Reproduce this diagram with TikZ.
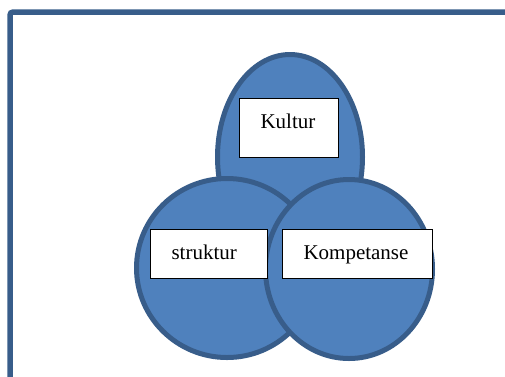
\documentclass[tikz,border=0pt]{standalone}
\usepackage{fontspec}
\setmainfont{Liberation Serif}
\usetikzlibrary{shapes}
\definecolor{ringfill}{HTML}{4F81BD}
\definecolor{ringline}{HTML}{385D8A}

\begin{document}
\begin{tikzpicture}[x=1pt,y=-1pt,inner sep=0pt,
	ring/.style={ellipse,draw=ringline,fill=ringfill,line width=5pt},
	tagbox/.style={draw=black,fill=white,line width=1pt,align=left,anchor=north west,
		font=\fontsize{21}{25}\selectfont,inner xsep=21pt,inner ysep=0pt,text height=30pt}]

\useasboundingbox (0,0) rectangle (505,376);
\clip (0,0) rectangle (505,376);

\coordinate (K) at (290,157);
\coordinate (S) at (227,268);
\coordinate (P) at (349,269);

\draw [ringline,line width=5.5pt,rounded corners=3pt]
	(10,420) -- (10,12) -- (560,12);

\node (kultur ring) at (K) [ring,minimum width=145pt,minimum height=205pt]{};
\node (struktur ring) at (S) [ring,minimum width=181pt,minimum height=179pt]{};
\node (kompetanse ring) at (P) [ring,minimum width=167pt,minimum height=179pt]{};

\node (kultur) at (239,98) [tagbox,text width=57pt,text depth=29pt]{Kultur};
\node (struktur) at (150,229) [tagbox,text width=75pt,text depth=19pt]{struktur};
\node (kompetanse) at (282,229) [tagbox,text width=108pt,text depth=19pt]{Kompetanse};

\end{tikzpicture}
\end{document}
